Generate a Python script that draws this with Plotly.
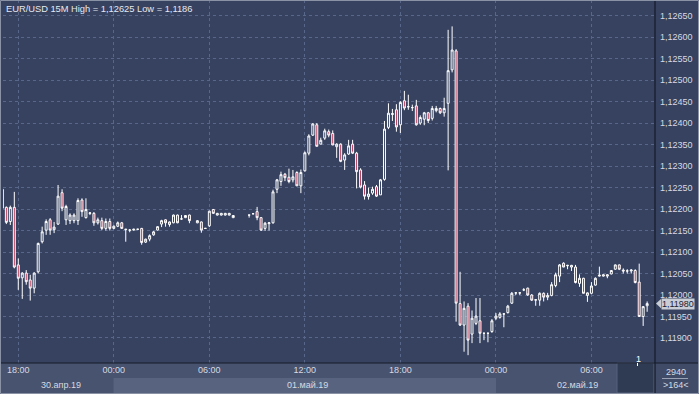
import pandas as pd
import plotly.graph_objects as go

# ---------------- data ----------------
start_time = "2019-04-30 17:00"
bar_minutes = 15

opens = [1.12202, 1.12204, 1.12171, 1.12204, 1.12070, 1.12040, 1.12051, 1.12035, 1.12016, 1.12054,
         1.12124, 1.12151, 1.12175, 1.12152, 1.12165, 1.12238, 1.12175, 1.12173, 1.12173, 1.12173,
         1.12221, 1.12180, 1.12190, 1.12190, 1.12168, 1.12173, 1.12155, 1.12171, 1.12155, 1.12160,
         1.12168, 1.12152, 1.12151, 1.12151, 1.12153, 1.12155, 1.12123, 1.12130, 1.12140, 1.12151,
         1.12165, 1.12175, 1.12164, 1.12168, 1.12186, 1.12177, 1.12180, 1.12186, None, 1.12168,
         1.12170, 1.12155, 1.12161, 1.12199, 1.12186, 1.12186, 1.12186, 1.12186, 1.12180, None,
         None, None, 1.12186, 1.12189, 1.12194, 1.12180, 1.12155, 1.12166, 1.12168, 1.12246,
         1.12264, 1.12281, 1.12274, 1.12268, 1.12285, 1.12254, 1.12289, 1.12330, 1.12372, 1.12396,
         1.12351, 1.12365, 1.12380, 1.12376, 1.12345, 1.12351, 1.12314, 1.12328, 1.12351, 1.12330,
         1.12291, 1.12256, 1.12229, 1.12237, 1.12252, 1.12233, 1.12269, 1.12390, 1.12420, 1.12431,
         1.12396, 1.12452, 1.12438, 1.12436, 1.12440, 1.12400, 1.12409, 1.12424, 1.12411, 1.12429,
         1.12434, 1.12424, 1.12446, 1.12524, 1.12568, 1.11980, 1.11930, 1.11974, 1.11909, 1.11934,
         1.11940, 1.11911, 1.11911, 1.11915, 1.11946, 1.11948, 1.11956, 1.11959, 1.11981, 1.12005,
         1.12005, 1.12012, 1.12016, 1.12000, 1.11988, 1.11988, 1.12004, 1.11995, 1.11999, 1.12022,
         1.12044, 1.12074, 1.12068, 1.12065, 1.12065, 1.12027, 1.12039, 1.11999, 1.12004, 1.12023,
         1.12044, 1.12044, 1.12044, 1.12049, 1.12060, 1.12070, 1.12058, 1.12056, 1.12056, 1.12057,
         1.12030, 1.11950, 1.11975]
highs = [1.12250, 1.12206, 1.12208, 1.12240, 1.12085, 1.12053, 1.12058, 1.12047, 1.12053, 1.12122,
         1.12159, 1.12176, 1.12179, 1.12170, 1.12256, 1.12246, 1.12210, 1.12190, 1.12190, 1.12225,
         1.12225, 1.12225, 1.12193, 1.12193, 1.12180, 1.12180, 1.12178, 1.12178, 1.12162, 1.12171,
         1.12170, 1.12153, 1.12153, 1.12154, 1.12154, 1.12156, 1.12131, 1.12141, 1.12149, 1.12160,
         1.12175, 1.12176, 1.12171, 1.12187, 1.12187, 1.12186, 1.12186, 1.12187, None, 1.12174,
         1.12171, 1.12156, 1.12196, 1.12200, 1.12191, 1.12191, 1.12191, 1.12191, 1.12186, None,
         None, None, 1.12186, 1.12190, 1.12205, 1.12181, 1.12170, 1.12170, 1.12245, 1.12270,
         1.12287, 1.12284, 1.12294, 1.12291, 1.12288, 1.12292, 1.12334, 1.12374, 1.12400, 1.12400,
         1.12366, 1.12387, 1.12385, 1.12383, 1.12353, 1.12353, 1.12330, 1.12361, 1.12361, 1.12333,
         1.12295, 1.12265, 1.12250, 1.12252, 1.12256, 1.12270, 1.12405, 1.12446, 1.12433, 1.12444,
         1.12451, 1.12475, 1.12466, 1.12443, 1.12454, 1.12418, 1.12426, 1.12426, 1.12440, 1.12440,
         1.12436, 1.12459, 1.12617, 1.12625, 1.12572, 1.12054, 1.11985, 1.11981, 1.11964, 1.11993,
         1.11993, 1.11912, 1.11912, 1.11944, 1.11958, 1.11960, 1.11957, 1.11977, 1.12007, 1.12006,
         1.12006, 1.12016, 1.12017, 1.12002, 1.11990, 1.12006, 1.12006, 1.12005, 1.12030, 1.12052,
         1.12072, 1.12076, 1.12070, 1.12070, 1.12070, 1.12048, 1.12040, 1.12006, 1.12030, 1.12041,
         1.12066, 1.12048, 1.12048, 1.12058, 1.12071, 1.12071, 1.12062, 1.12060, 1.12060, 1.12060,
         1.12073, 1.11974, 1.11985]
lows = [1.12198, 1.12165, 1.12163, 1.12062, 1.12012, 1.11991, 1.12024, 1.11987, 1.12004, 1.12050,
        1.12120, 1.12140, 1.12140, 1.12144, 1.12163, 1.12195, 1.12163, 1.12165, 1.12167, 1.12163,
        1.12182, 1.12178, 1.12186, 1.12161, 1.12164, 1.12151, 1.12150, 1.12150, 1.12153, 1.12158,
        1.12154, 1.12124, 1.12146, 1.12150, 1.12152, 1.12117, 1.12121, 1.12125, 1.12138, 1.12150,
        1.12158, 1.12159, 1.12159, 1.12167, 1.12167, 1.12175, 1.12179, 1.12167, None, 1.12167,
        1.12145, 1.12154, 1.12158, 1.12189, 1.12185, 1.12185, 1.12185, 1.12185, 1.12179, None,
        None, None, 1.12180, 1.12188, 1.12174, 1.12149, 1.12149, 1.12150, 1.12166, 1.12237,
        1.12254, 1.12265, 1.12260, 1.12262, 1.12254, 1.12237, 1.12287, 1.12325, 1.12370, 1.12346,
        1.12351, 1.12361, 1.12367, 1.12349, 1.12319, 1.12309, 1.12291, 1.12326, 1.12328, 1.12248,
        1.12248, 1.12222, 1.12222, 1.12233, 1.12228, 1.12233, 1.12266, 1.12386, 1.12405, 1.12380,
        1.12377, 1.12430, 1.12431, 1.12428, 1.12394, 1.12396, 1.12395, 1.12400, 1.12406, 1.12425,
        1.12421, 1.12415, 1.12290, 1.12518, 1.11938, 1.11928, 1.11868, 1.11860, 1.11888, 1.11930,
        1.11888, 1.11895, 1.11890, 1.11912, 1.11942, 1.11945, 1.11925, 1.11957, 1.11979, 1.12000,
        1.12000, 1.12009, 1.11998, 1.11986, 1.11975, 1.11975, 1.11985, 1.11988, 1.11997, 1.12018,
        1.12030, 1.12065, 1.12060, 1.12056, 1.12027, 1.12019, 1.12004, 1.11984, 1.12002, 1.12022,
        1.12043, 1.12043, 1.12039, 1.12048, 1.12059, 1.12058, 1.12050, 1.12050, 1.12050, 1.12027,
        1.11950, 1.11928, 1.11961]
closes = [1.12246, 1.12169, 1.12204, 1.12065, 1.12039, 1.12051, 1.12031, 1.12016, 1.12051, 1.12120,
          1.12147, 1.12171, 1.12151, 1.12158, 1.12230, 1.12202, 1.12206, 1.12186, 1.12186, 1.12220,
          1.12194, 1.12199, 1.12191, 1.12168, 1.12175, 1.12155, 1.12171, 1.12155, 1.12160, 1.12168,
          1.12155, 1.12153, 1.12151, 1.12153, 1.12153, 1.12122, 1.12130, 1.12138, 1.12147, 1.12159,
          1.12173, 1.12168, 1.12170, 1.12186, 1.12168, 1.12177, 1.12185, 1.12173, None, 1.12173,
          1.12151, 1.12155, 1.12195, 1.12190, 1.12190, 1.12190, 1.12190, 1.12190, 1.12185, None,
          None, None, 1.12186, 1.12189, 1.12180, 1.12151, 1.12167, 1.12168, 1.12240, 1.12268,
          1.12280, 1.12273, 1.12264, 1.12275, 1.12254, 1.12285, 1.12331, 1.12370, 1.12398, 1.12346,
          1.12360, 1.12382, 1.12372, 1.12349, 1.12351, 1.12311, 1.12326, 1.12347, 1.12330, 1.12287,
          1.12251, 1.12230, 1.12235, 1.12246, 1.12230, 1.12268, 1.12386, 1.12423, 1.12422, 1.12391,
          1.12448, 1.12435, 1.12438, 1.12436, 1.12396, 1.12413, 1.12424, 1.12406, 1.12434, 1.12434,
          1.12424, 1.12434, 1.12522, 1.12570, 1.11981, 1.11930, 1.11969, 1.11895, 1.11946, 1.11951,
          1.11911, 1.11911, 1.11911, 1.11940, 1.11951, 1.11956, 1.11956, 1.11974, 1.12004, 1.12005,
          1.12005, 1.12012, 1.12000, 1.11988, 1.11989, 1.12004, 1.11995, 1.11999, 1.12024, 1.12047,
          1.12070, 1.12065, 1.12069, 1.12069, 1.12029, 1.12039, 1.12004, 1.12005, 1.12021, 1.12039,
          1.12046, 1.12047, 1.12047, 1.12057, 1.12070, 1.12060, 1.12056, 1.12056, 1.12058, 1.12029,
          1.11950, 1.11973, 1.11980]

price_ticks = [1.11900, 1.11950, 1.12000, 1.12050, 1.12100, 1.12150, 1.12200, 1.12250,
               1.12300, 1.12350, 1.12400, 1.12450, 1.12500, 1.12550, 1.12600, 1.12650]
price_tick_labels = [f"{v:.5f}".replace(".", ",") for v in price_ticks]

time_ticks = ["2019-04-30 18:00", "2019-05-01 00:00", "2019-05-01 06:00", "2019-05-01 12:00",
              "2019-05-01 18:00", "2019-05-02 00:00", "2019-05-02 06:00"]
time_tick_labels = ["18:00", "00:00", "06:00", "12:00", "18:00", "00:00", "06:00"]
date_labels = ["30.апр.19", "01.май.19", "02.май.19"]
last_price = 1.11980
bars_total = "2940"
bars_visible = ">164<"

# ---------------- prepare ----------------
times_all = pd.date_range(start_time, periods=len(opens), freq=f"{bar_minutes}min")
keep = [k for k in range(len(opens)) if opens[k] is not None]
t = [times_all[k] for k in keep]
o = [opens[k] for k in keep]
h = [highs[k] for k in keep]
l = [lows[k] for k in keep]
c = [closes[k] for k in keep]

hi = max(h)
lo = min(l)
def fmt(v):
    return f"{v:.5f}".rstrip("0").replace(".", ",")
title_text = f"EUR/USD 15M High = {fmt(hi)} Low = {fmt(lo)}"

BG = "#36425f"
GRID = "#58668a"
TXT = "#d6dae3"
FONT = "Liberation Sans, Arial, sans-serif"

W, H = 699, 394
ML, MR, MT, MB = 3, 45, 0, 31
PW = W - ML - MR
PH = H - MT - MB

def px(xp):
    return (xp - ML) / PW

def py(yp):
    return 1 - (yp - MT) / PH

fig = go.Figure()
fig.add_trace(go.Candlestick(
    x=t, open=o, high=h, low=l, close=c,
    increasing=dict(line=dict(color="#ffffff", width=1), fillcolor=BG),
    decreasing=dict(line=dict(color="#ffffff", width=1), fillcolor="#b0314f"),
    whiskerwidth=0, hoverinfo="skip", showlegend=False,
))

x0 = pd.Timestamp("2019-04-30 18:00") - pd.Timedelta(minutes=57.6)
x1 = pd.Timestamp("2019-04-30 18:00") + pd.Timedelta(minutes=2395.8)

shapes = []
# bottom strip backgrounds
y_strip_top = py(363)
y_mid = py(378)
y_bot = py(393)
shapes.append(dict(type="rect", xref="paper", yref="paper", x0=px(0), x1=px(655), y0=y_bot, y1=y_strip_top,
                   fillcolor="#47536f", line=dict(width=0), layer="below"))
shapes.append(dict(type="rect", xref="paper", yref="paper", x0=px(113.5), x1=px(496), y0=y_bot, y1=y_mid,
                   fillcolor="#58647f", line=dict(width=0), layer="below"))
shapes.append(dict(type="rect", xref="paper", yref="paper", x0=px(617), x1=px(654), y0=y_bot, y1=y_strip_top,
                   fillcolor="#2f3a53", line=dict(color="#56627c", width=1), layer="below"))
# right bottom box
shapes.append(dict(type="rect", xref="paper", yref="paper", x0=px(655), x1=px(699), y0=y_bot, y1=y_strip_top,
                   fillcolor="#3f4b67", line=dict(width=0), layer="below"))
shapes.append(dict(type="line", xref="paper", yref="paper", x0=px(662), x1=px(688), y0=py(378.5), y1=py(378.5),
                   line=dict(color="#9aa3b5", width=1)))
# separators
shapes.append(dict(type="line", xref="paper", yref="paper", x0=px(655), x1=px(655), y0=y_bot, y1=1,
                   line=dict(color="#141a28", width=1.2)))
shapes.append(dict(type="line", xref="paper", yref="paper", x0=px(0), x1=px(699), y0=py(363), y1=py(363),
                   line=dict(color="#141a28", width=1.2)))
# outer frame
shapes.append(dict(type="rect", xref="paper", yref="paper", x0=px(0.5), x1=px(698.5), y0=py(393.5), y1=py(0.5),
                   line=dict(color="#8a93a6", width=1)))
# last price tag arrow
shapes.append(dict(type="path", xref="paper", yref="y",
                   path=f"M {px(656)} {last_price} L {px(661)} {last_price + 0.00011} L {px(661)} {last_price - 0.00011} Z",
                   fillcolor="#c9cdd6", line=dict(width=0)))
# small marker tick
shapes.append(dict(type="line", xref="paper", yref="paper", x0=px(637.5), x1=px(637.5), y0=py(363), y1=py(366),
                   line=dict(color="#ffffff", width=1)))

annotations = []
annotations.append(dict(text=title_text, xref="paper", yref="paper", x=px(4), y=py(9), xanchor="left",
                        yanchor="middle", showarrow=False, font=dict(family=FONT, size=9.3, color="#e6e9ef")))
date_x = [61, 307, 577]
for dx, dl in zip(date_x, date_labels):
    annotations.append(dict(text=dl, xref="paper", yref="paper", x=px(dx), y=py(385.5), xanchor="center",
                            yanchor="middle", showarrow=False, font=dict(family=FONT, size=9, color=TXT)))
annotations.append(dict(text=bars_total, xref="paper", yref="paper", x=px(676), y=py(371.5), xanchor="center",
                        yanchor="middle", showarrow=False, font=dict(family=FONT, size=9, color=TXT)))
annotations.append(dict(text=bars_visible, xref="paper", yref="paper", x=px(676), y=py(385.5), xanchor="center",
                        yanchor="middle", showarrow=False, font=dict(family=FONT, size=9, color=TXT)))
annotations.append(dict(text=f"{last_price:.5f}".replace(".", ","), xref="paper", yref="y", x=px(660.5), y=last_price,
                        xanchor="left", yanchor="middle", showarrow=False, bgcolor="#c9cdd6", borderpad=0,
                        font=dict(family=FONT, size=9, color="#1c2233")))
annotations.append(dict(text="1", xref="paper", yref="paper", x=px(638), y=py(359), xanchor="center",
                        yanchor="middle", showarrow=False, font=dict(family=FONT, size=9, color="#ffffff")))

fig.update_layout(
    width=W, height=H,
    margin=dict(l=ML, r=MR, t=MT, b=MB, pad=0),
    paper_bgcolor=BG, plot_bgcolor=BG,
    showlegend=False,
    font=dict(family=FONT, size=9, color=TXT),
    shapes=shapes, annotations=annotations,
    xaxis=dict(type="date", range=[x0, x1], rangeslider=dict(visible=False),
               tickvals=time_ticks, ticktext=time_tick_labels,
               showgrid=True, gridcolor=GRID, griddash="3px,3px", gridwidth=1,
               ticks="", ticklen=0, zeroline=False, showline=False,
               tickfont=dict(family=FONT, size=9, color=TXT)),
    yaxis=dict(side="right", range=[1.118418, 1.126864], tickvals=price_ticks, ticktext=price_tick_labels,
               showgrid=True, gridcolor=GRID, griddash="3px,3px", gridwidth=1,
               ticks="", zeroline=False, showline=False, ticklabelstandoff=5,
               tickfont=dict(family=FONT, size=9, color=TXT)),
)

fig.write_html("out.html")
